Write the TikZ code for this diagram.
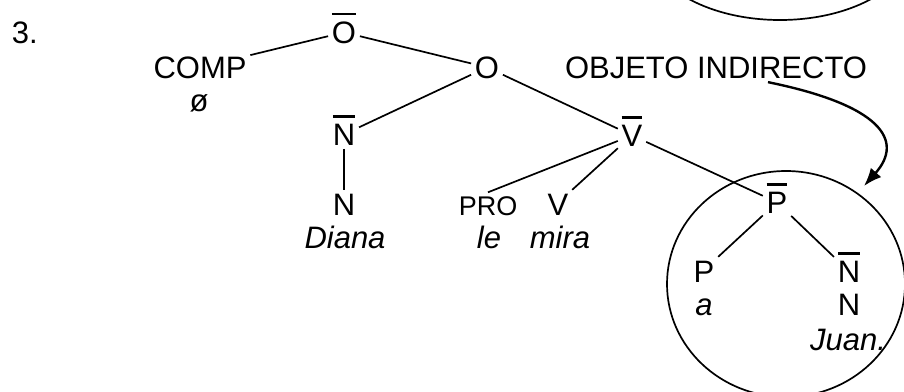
\documentclass[tikz,border=0pt]{standalone}
\usepackage{fontspec}
\setmainfont{Liberation Sans}
\usetikzlibrary{arrows.meta,positioning,shapes.geometric}
\newcommand{\barra}[1]{\vphantom{#1}\smash{\vbox{\hrule height 1.4pt\kern 3pt\hbox{#1}}}}

\begin{document}
\begin{tikzpicture}[x=0.5pt,y=-0.5pt,line width=0.85pt,
        txt/.style={anchor=base,inner sep=1.5pt,font=\fontsize{15.5}{18}\selectfont},
        small/.style={txt,font=\fontsize{13.5}{16}\selectfont}]
        \clip (0,0) rectangle (904,391);
        \node[txt,anchor=base west] (num) at (8,43) {3.};
        \node[txt] (obar) at (344,43) {\barra{O}};
        \node[txt] (comp) at (200,78) {COMP};
        \node[txt] (empty) at (199,111) {ø};
        \node[txt] (o) at (487,78) {O};
        \node[txt] (oi) at (716,78) {OBJETO INDIRECTO};
        \node[txt] (nbar) at (344,145) {\barra{N}};
        \node[txt] (n) at (344,215) {N};
        \node[txt] (diana) at (345,248) {\textit{Diana}};
        \node[txt] (vbar) at (632,146) {\barra{V}};
        \node[small] (pro) at (488,215) {PRO};
        \node[txt] (v) at (558,215) {V};
        \node[txt] (le) at (489,248) {\textit{le}};
        \node[txt] (mira) at (560,248) {\textit{mira}};
        \node[txt] (pbar) at (777,213) {\barra{P}};
        \node[txt] (p) at (704,282) {P};
        \node[txt] (a) at (704,315) {\textit{a}};
        \node[txt] (nbarb) at (849,282) {\barra{N}};
        \node[txt] (nb) at (849,315) {N};
        \node[txt] (juan) at (848,350) {\textit{Juan.}};
        \node[draw,ellipse,inner sep=0pt,minimum width=119pt,minimum height=113pt] (ring) at (786,284) {};
        \draw (780,-60) ellipse [x radius=135, y radius=80];
        \coordinate (tip) at (864,186);

        \draw (obar) -- (comp);
        \draw (obar) -- (o);
        \draw (o) -- (nbar);
        \draw (o) -- (vbar);
        \draw (nbar) -- (n);
        \draw (vbar) -- (pro.north);
        \draw (vbar) -- (v.north east);
        \draw (vbar) -- (pbar);
        \draw (pbar) -- (p.north east);
        \draw (pbar) -- (nbarb);
        \draw[line width=1.2pt,-{Latex[length=9pt,width=7pt]}] ([xshift=26pt]oi.south)
            .. controls (880,105) and (905,140) .. (tip);
\end{tikzpicture}
\end{document}
